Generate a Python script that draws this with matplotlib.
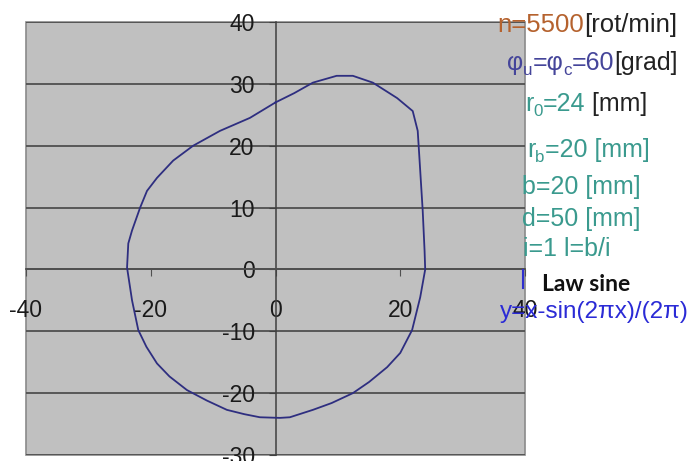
import matplotlib
matplotlib.use("Agg")
import matplotlib.pyplot as plt

plt.rcParams.update(
    {
        "font.family": ["Liberation Sans", "DejaVu Sans"],
        "axes.unicode_minus": False,
    }
)

# cam profile (x, y in mm)
profile_x = [0, 3, 6, 9.8, 12.4, 15.6, 19.5, 22, 22.8, 23.1, 23.6, 23.9, 24,
             23.2, 21.9, 20, 17.9, 15, 12.4, 9, 6, 2.3, 0.7, -2.5, -5, -7.8,
             -11, -14.2, -17, -19, -20.7, -22, -23, -23.8, -23.6, -23, -21.7,
             -20.6, -19, -16.4, -13.2, -8.9, -4.1, 0]
profile_y = [27.0, 28.5, 30.2, 31.3, 31.3, 30.2, 27.7, 25.6, 22.4, 17.6, 9.5, 3, 0,
             -4.5, -9.8, -13.5, -15.8, -18.2, -20, -21.6, -22.7, -23.9, -24, -23.9,
             -23.4, -22.7, -21.2, -19.5, -17.3, -15.2, -12.5, -9.8, -5, 0.3, 4.2,
             6.3, 10, 12.7, 14.8, 17.6, 20, 22.4, 24.5, 27.0]

x_ticks = [-40, -20, 0, 20, 40]
y_ticks = [-30, -20, -10, 0, 10, 20, 30, 40]

TEAL = "#3a9a8e"
INK = "#222222"
PHI = "#45459a"
# (left px, baseline px, size, [(text, colour, is_subscript)])
notes = [
    (497, 32, 18.5, [("n=5500", "#b5622e", False), ("[rot/min]", INK, False)]),
    (507, 70, 18, [("\u03c6", PHI, False), ("u", PHI, True), ("=\u03c6", PHI, False),
                   ("c", PHI, True), ("=60", PHI, False), ("[grad]", INK, False)]),
    (525, 111, 18, [("r", TEAL, False), ("0", TEAL, True), ("=24", TEAL, False),
                    (" [mm]", INK, False)]),
    (527, 157, 18, [("r", TEAL, False), ("b", TEAL, True), ("=20 [mm]", TEAL, False)]),
    (522, 194, 18, [("b=20 [mm]", TEAL, False)]),
    (522, 226, 18, [("d=50 [mm]", TEAL, False)]),
    (523, 256, 18, [("i=1 l=b/i", TEAL, False)]),
]
law_title = "Law sine"
law_formula = "y=x-sin(2\u03c0x)/(2\u03c0)"

W, H = 693, 461
fig = plt.figure(figsize=(W / 100, H / 100), dpi=100)
ax = fig.add_axes([26 / W, 6 / H, 499 / W, 433 / H])
ax.set_facecolor("#c0c0c0")
ax.patch.set_edgecolor("#8a8a8a")
ax.patch.set_linewidth(1.2)

ax.plot(profile_x, profile_y, color="#2e2e80", linewidth=1.3, zorder=3)

ax.set_xlim(-40, 40)
ax.set_ylim(-30, 40)
ax.set_xticks(x_ticks)
ax.set_yticks(y_ticks)
ax.yaxis.grid(True, color="#505050", linewidth=1.3)
ax.set_axisbelow(True)

for side in ["top", "right"]:
    ax.spines[side].set_visible(False)
ax.spines["left"].set_position(("data", 0))
ax.spines["bottom"].set_position(("data", 0))
ax.spines["left"].set_color("#404040")
ax.spines["bottom"].set_color("#505050")
ax.spines["left"].set_linewidth(1.1)
ax.spines["bottom"].set_linewidth(1.3)
ax.tick_params(axis="y", direction="out", length=5, pad=10, labelsize=16.5, colors="#404040",
               labelcolor="#1a1a1a")
ax.tick_params(axis="x", direction="out", length=5, pad=16, labelsize=16.5, colors="#505050",
               labelcolor="#1a1a1a")

renderer = fig.canvas.get_renderer()


def put_line(x_px, base_px, size, pieces):
    x = x_px
    for s, c, sub in pieces:
        fs = size * 0.68 if sub else size
        y = base_px + (5 if sub else 0)
        t = fig.text(x / W, 1 - y / H, s, color=c, ha="left", va="baseline", fontsize=fs)
        x += t.get_window_extent(renderer).width


for x_px, base_px, size, pieces in notes:
    put_line(x_px, base_px, size, pieces)

fig.add_artist(plt.Line2D([523 / W, 523 / W], [1 - 270 / H, 1 - 288 / H],
                          color="#3030d0", linewidth=1.5))
fig.text(542 / W, 1 - 291 / H, law_title, fontsize=16.5, fontweight="bold",
         family="Lato", color="#111111", ha="left", va="baseline")
fig.text(500 / W, 1 - 318 / H, law_formula, fontsize=17.5, color="#2b2bd6",
         ha="left", va="baseline")

fig.savefig("out.png", dpi=100)
